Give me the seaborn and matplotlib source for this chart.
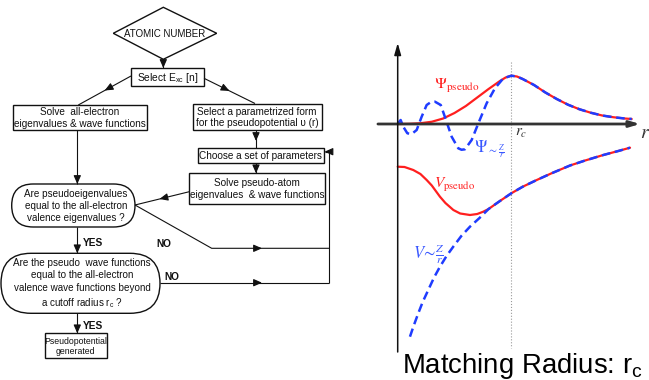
"""Pseudopotential generation flowchart with matching-radius sketch."""

import matplotlib.pyplot as plt
import numpy as np
import seaborn as sns
from matplotlib.patches import FancyBboxPatch, Polygon, Rectangle

RED = "#ff1f1f"
BLUE = "#1f3cff"
LABEL_BLUE = "#3a58ff"
AXIS = "#333333"
INK = "#111111"
SANS = ["Liberation Sans", "DejaVu Sans"]

# ---- flowchart node texts ----
TXT_START = "ATOMIC NUMBER"
TXT_XC = r"Select E$_\mathregular{xc}$ [n]"
TXT_AE = "Solve  all-electron\neigenvalues & wave functions"
TXT_FORM = "Select a parametrized form\nfor the pseudopotential \u03c5 (r)"
TXT_PARAMS = "Choose a set of parameters"
TXT_PSEUDO = "Solve pseudo-atom\neigenvalues  & wave functions"
TXT_Q1 = "Are pseudoeigenvalues\nequal to the all-electron\nvalence eigenvalues ?"
TXT_Q2 = ("Are the pseudo  wave functions\nequal to the all-electron\n"
          r"valence wave functions beyond" "\n" r"a cutoff radius r$_\mathregular{c}$ ?")
TXT_DONE = "Pseudopotential\ngenerated"
TXT_YES = "YES"
TXT_NO = "NO"

# ---- curves (r in units of r_c) ----
PSI_PS_R = [0.0, 0.1, 0.2, 0.3, 0.4, 0.5, 0.6, 0.7, 0.8, 0.9, 0.95, 1.0,
            1.05, 1.1, 1.2, 1.3, 1.4, 1.5, 1.6, 1.7, 1.8, 1.9, 2.0, 2.06]
PSI_PS = [0.0, 0.003, 0.015, 0.045, 0.11, 0.22, 0.36, 0.53, 0.70, 0.86, 0.93, 0.966,
          0.95, 0.90, 0.78, 0.63, 0.50, 0.385, 0.295, 0.225, 0.17, 0.135, 0.11, 0.10]

PSI_AE_CORE_R = [0.0, 0.026, 0.049, 0.085, 0.123, 0.167, 0.211, 0.255, 0.29, 0.328,
                 0.379, 0.425, 0.475, 0.533, 0.562, 0.592, 0.651, 0.71, 0.783, 0.856, 0.93]
PSI_AE_CORE = [0.0, 0.08, -0.054, -0.186, -0.2, -0.12, 0.146, 0.38, 0.435, 0.446,
               0.38, 0.08, -0.254, -0.486, -0.515, -0.506, -0.32, 0.014, 0.414, 0.714, 0.914]

V_PS_R = [0.0, 0.06, 0.137, 0.2, 0.255, 0.3, 0.372, 0.42, 0.49, 0.55, 0.636, 0.7,
          0.753, 0.8, 0.871, 0.9, 1.0, 1.1, 1.224, 1.35, 1.517, 1.65, 1.81, 1.95, 2.045]
V_PS = [-0.854, -0.86, -0.92, -1.0, -1.12, -1.23, -1.454, -1.58, -1.72, -1.79, -1.82, -1.80,
        -1.754, -1.70, -1.586, -1.54, -1.386, -1.255, -1.12, -0.99, -0.83, -0.73, -0.62,
        -0.535, -0.474]

V_COUL_CORE_R = [0.108, 0.14, 0.181, 0.22, 0.269, 0.32, 0.372, 0.43, 0.489, 0.56, 0.636, 0.72]
V_COUL_CORE = [-4.254, -4.04, -3.786, -3.56, -3.32, -3.07, -2.854, -2.64, -2.454, -2.24,
               -2.054, -1.88]

R_CUT = 1.0

sns.set_theme(style="white")
plt.rcParams["font.family"] = SANS

fig = plt.figure(figsize=(6.49, 3.80), dpi=100)
fig.patch.set_facecolor("white")

# ================= flowchart (pixel coordinates) =================
fc = fig.add_axes([0, 0, 1, 1])
fc.set_xlim(0, 649)
fc.set_ylim(380, 0)
fc.axis("off")

LW = 0.8


def box(x0, y0, x1, y1, text, fs=7.2):
    fc.add_patch(Rectangle((x0, y0), x1 - x0, y1 - y0, fill=False, ec=INK, lw=1.0))
    fc.text((x0 + x1) / 2, (y0 + y1) / 2 + 0.5, text, ha="center", va="center",
            fontsize=fs, color=INK, linespacing=1.2)


def oval(x0, y0, x1, y1, text, cx, fs=7.0, ls=1.3):
    r = (y1 - y0) / 2
    fc.add_patch(FancyBboxPatch((x0, y0), x1 - x0, y1 - y0,
                                boxstyle=f"round,pad=0,rounding_size={r}",
                                fill=False, ec=INK, lw=1.0))
    fc.text(cx, (y0 + y1) / 2 + 0.5, text, ha="center", va="center",
            fontsize=fs, color=INK, linespacing=ls)


def line(xs, ys):
    fc.plot(xs, ys, color=INK, lw=LW, solid_capstyle="butt")


def head(tip, frm):
    fc.annotate("", xy=tip, xytext=frm,
                arrowprops=dict(arrowstyle="-|>,head_length=0.5,head_width=0.22",
                                color=INK, lw=LW, shrinkA=0, shrinkB=0, mutation_scale=10))


def head_mid(p0, p1, t=0.5):
    p0, p1 = np.array(p0, float), np.array(p1, float)
    tip = p0 + (p1 - p0) * t
    d = (p1 - p0) / np.hypot(*(p1 - p0))
    head(tuple(tip), tuple(tip - d * 5))


# start diamond
fc.add_patch(Polygon([(113.3, 33.3), (163.3, 7.3), (216.7, 33.3), (163.3, 59.3)],
                     closed=True, fill=False, ec=INK, lw=1.0))
fc.text(165, 33.8, TXT_START, ha="center", va="center", fontsize=7.0, color=INK)

line([163.3, 163.3], [59.3, 68])
head((163.3, 68), (163.3, 62))

box(131, 68.3, 204, 86, TXT_XC, fs=7.4)

line([131, 78.3], [76, 105])
head_mid((131, 76), (78.3, 105))
line([204, 255], [78.3, 103.5])
head_mid((204, 78.3), (255, 103.5))

box(12.7, 105, 146.7, 130, TXT_AE)
box(192.7, 104, 321.7, 130, TXT_FORM)

line([256, 256], [130, 148.3])
head((256, 141), (256, 135))
box(197.7, 148.3, 324, 162.7, TXT_PARAMS)

line([256, 256], [162.7, 173.3])
head((256, 173.3), (256, 167))
box(189.3, 173.3, 325, 204, TXT_PSEUDO)

line([77.3, 77.3], [130, 184])
head((77.3, 184), (77.3, 178))
oval(11.7, 184, 135, 227, TXT_Q1, cx=76, fs=7.1)

line([189.3, 135], [191.7, 205])
head_mid((189.3, 191.7), (135, 205), t=0.55)

line([135, 211.7, 329], [205, 248.3, 248.3])
head((262, 248.3), (256, 248.3))

line([77.3, 77.3], [227, 253.3])
head((77.3, 253.3), (77.3, 247))
oval(1, 253.3, 160, 313.3, TXT_Q2, cx=82, fs=7.1, ls=1.32)

line([160, 329], [282.7, 282.7])
head((262, 282.7), (256, 282.7))
line([329, 329], [282.7, 151.7])
line([329, 325], [151.7, 151.7])
head((324.5, 151.7), (329, 151.7))

line([77.3, 77.3], [313.3, 333.3])
head((77.3, 333.3), (77.3, 327))
box(45, 333.3, 106.7, 358.3, TXT_DONE, fs=6.3)

fc.text(83, 242.6, TXT_YES, ha="left", va="center", fontsize=7.3, fontweight="bold", color=INK)
fc.text(156.7, 243.8, TXT_NO, ha="left", va="center", fontsize=7.3, fontweight="bold", color=INK)
fc.text(164, 277.5, TXT_NO, ha="left", va="center", fontsize=7.3, fontweight="bold", color=INK)
fc.text(83, 326.3, TXT_YES, ha="left", va="center", fontsize=7.3, fontweight="bold", color=INK)

# ================= matching-radius sketch =================
ax = fig.add_axes([370 / 649, 20 / 380, 279 / 649, 325 / 380])
ax.set_xlim(-0.2438, 2.2121)
ax.set_ylim(-4.72, 1.78)
ax.axis("off")
ax.patch.set_alpha(0)

# axes drawn as arrows
ax.annotate("", xy=(2.133, 0), xytext=(-0.174, 0),
            arrowprops=dict(arrowstyle="-|>,head_length=0.6,head_width=0.18", lw=2.0,
                            color=AXIS, shrinkA=0, shrinkB=0, mutation_scale=10))
ax.annotate("", xy=(0, 1.62), xytext=(0, -4.56),
            arrowprops=dict(arrowstyle="-|>,head_length=0.7,head_width=0.2", lw=1.1,
                            color=INK, shrinkA=0, shrinkB=0, mutation_scale=10))
ax.plot([R_CUT, R_CUT], [1.24, -4.48], color="#9a9a9a", lw=0.8, ls=":")

tail_psi = [(r, v) for r, v in zip(PSI_PS_R, PSI_PS) if r >= R_CUT]
psi_ae_r = PSI_AE_CORE_R + [r for r, _ in tail_psi]
psi_ae = PSI_AE_CORE + [v for _, v in tail_psi]
tail_v = [(r, v) for r, v in zip(V_PS_R, V_PS) if r >= 0.8]
v_coul_r = V_COUL_CORE_R + [r for r, _ in tail_v]
v_coul = V_COUL_CORE + [v for _, v in tail_v]

sns.lineplot(x=PSI_PS_R, y=PSI_PS, ax=ax, color=RED, lw=1.6, sort=False, estimator=None)
sns.lineplot(x=V_PS_R, y=V_PS, ax=ax, color=RED, lw=1.6, sort=False, estimator=None)
sns.lineplot(x=psi_ae_r, y=psi_ae, ax=ax, color=BLUE, lw=1.8, sort=False, estimator=None)
ax.lines[-1].set_dashes((3.4, 1.9))
sns.lineplot(x=v_coul_r, y=v_coul, ax=ax, color=BLUE, lw=1.8, sort=False, estimator=None)
ax.lines[-1].set_dashes((3.4, 1.9))

ax.text(0.52, 0.76, r"$\Psi_{\mathrm{pseudo}}$", color=RED, fontsize=11.5,
        ha="center", va="center", math_fontfamily="stix")
ax.text(0.81, -0.50, r"$\Psi_{\sim\frac{Z}{r}}$", color=LABEL_BLUE, fontsize=12,
        ha="center", va="center", math_fontfamily="stix")
ax.text(0.50, -1.21, r"$V_{\mathrm{pseudo}}$", color=RED, fontsize=11,
        ha="center", va="center", math_fontfamily="stix")
ax.text(0.27, -2.60, r"$V\!\sim\!\frac{Z}{r}$", color=LABEL_BLUE, fontsize=12,
        ha="center", va="center", math_fontfamily="stix")
ax.text(1.09, -0.19, r"$r_c$", color=AXIS, fontsize=11, ha="center", va="center",
        math_fontfamily="stix")
ax.text(2.175, -0.20, r"$r$", color=AXIS, fontsize=14, ha="center", va="center",
        math_fontfamily="stix")

fig.text(402 / 649, (380 - 373.3) / 380, r"Matching Radius: r$_\mathregular{c}$",
         fontsize=19.8, color="black", ha="left", va="baseline")

fig.savefig("out.png", dpi=100, facecolor="white")
